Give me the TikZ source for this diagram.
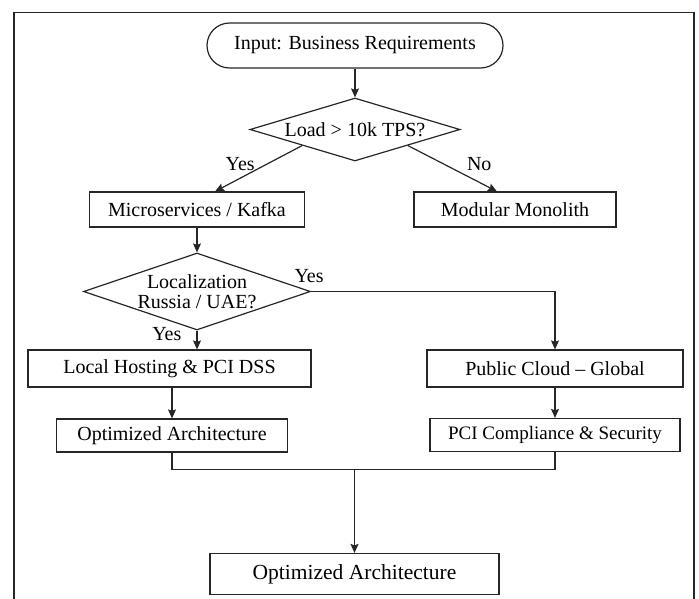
\documentclass[tikz,border=0pt]{standalone}
\usepackage{fontspec}
\setmainfont{Liberation Serif}
\usetikzlibrary{shapes.geometric,shapes.misc,arrows.meta}
\begin{document}
\begin{tikzpicture}[x=1pt, y=-1pt, line width=1.2pt, draw=black!85,
        every node/.style={inner sep=0pt, font={\fontsize{20}{23}\selectfont}},
        box/.style={draw, rectangle},
        decision/.style={draw, diamond},
        flow/.style={-{Stealth[length=9pt, width=8pt, inset=1.5pt]}}]
    \useasboundingbox (0,0) rectangle (699,599);
    \draw[line width=1.6pt] (14,599) -- (14,12.5) -- (694,12.5) -- (694,599);

    \node[draw, rounded rectangle, minimum width=296, minimum height=45]
        (start) at (355,45.5) {Input: Business Requirements};
    \node[decision, minimum width=210, minimum height=63,
        label={center:Load > 10k TPS?}] (load) at (355,129.5) {};
    \node[box, minimum width=215, minimum height=35]
        (micro) at (197,209.5) {Microservices / Kafka};
    \node[box, minimum width=202, minimum height=35]
        (mono) at (515,209.5) {Modular Monolith};
    \node[decision, minimum width=227, minimum height=77,
        label={[align=center, font={\fontsize{20}{19.5}\selectfont}]center:Localization\\Russia / UAE?}]
        (region) at (197,291.5) {};
    \node[box, minimum width=283, minimum height=37]
        (hosting) at (169.5,368.5) {Local Hosting \& PCI DSS};
    \node[box, minimum width=256, minimum height=37]
        (cloud) at (555,368.5) {Public Cloud -- Global};
    \node[box, minimum width=231, minimum height=33]
        (optleft) at (172,435.5) {Optimized Architecture};
    \node[box, minimum width=250, minimum height=33, font={\fontsize{19}{22}\selectfont}]
        (pci) at (555,435) {PCI Compliance \& Security};
    \node[box, minimum width=289, minimum height=41, font={\fontsize{21.5}{24}\selectfont}]
        (final) at (354.5,574) {Optimized Architecture};

    \draw[flow] (start.south) -- (load.north);
    \draw[flow] (load.south west) -- (micro.45) node[pos=0.4, left=12pt] {Yes};
    \draw[flow] (load.south east) -- (mono.135) node[pos=0.4, right=23pt] {No};
    \draw[flow] (micro.south) -- (region.north);
    \draw[flow] (region.east) node[above, xshift=-2pt, yshift=8pt] {Yes} -| (cloud.north);
    \draw[flow] (region.south) -- (region.south |- hosting.north)
        node[pos=0.2, left=15pt] {Yes};
    \draw[flow] (optleft.north |- hosting.south) -- (optleft.north);
    \draw[flow] (cloud.south) -- (pci.north);
    \draw (optleft.south) -- ++(0,17) coordinate (joinl) -| (pci.south);
    \draw[flow] (final.north |- joinl) -- (final.north);
\end{tikzpicture}
\end{document}
